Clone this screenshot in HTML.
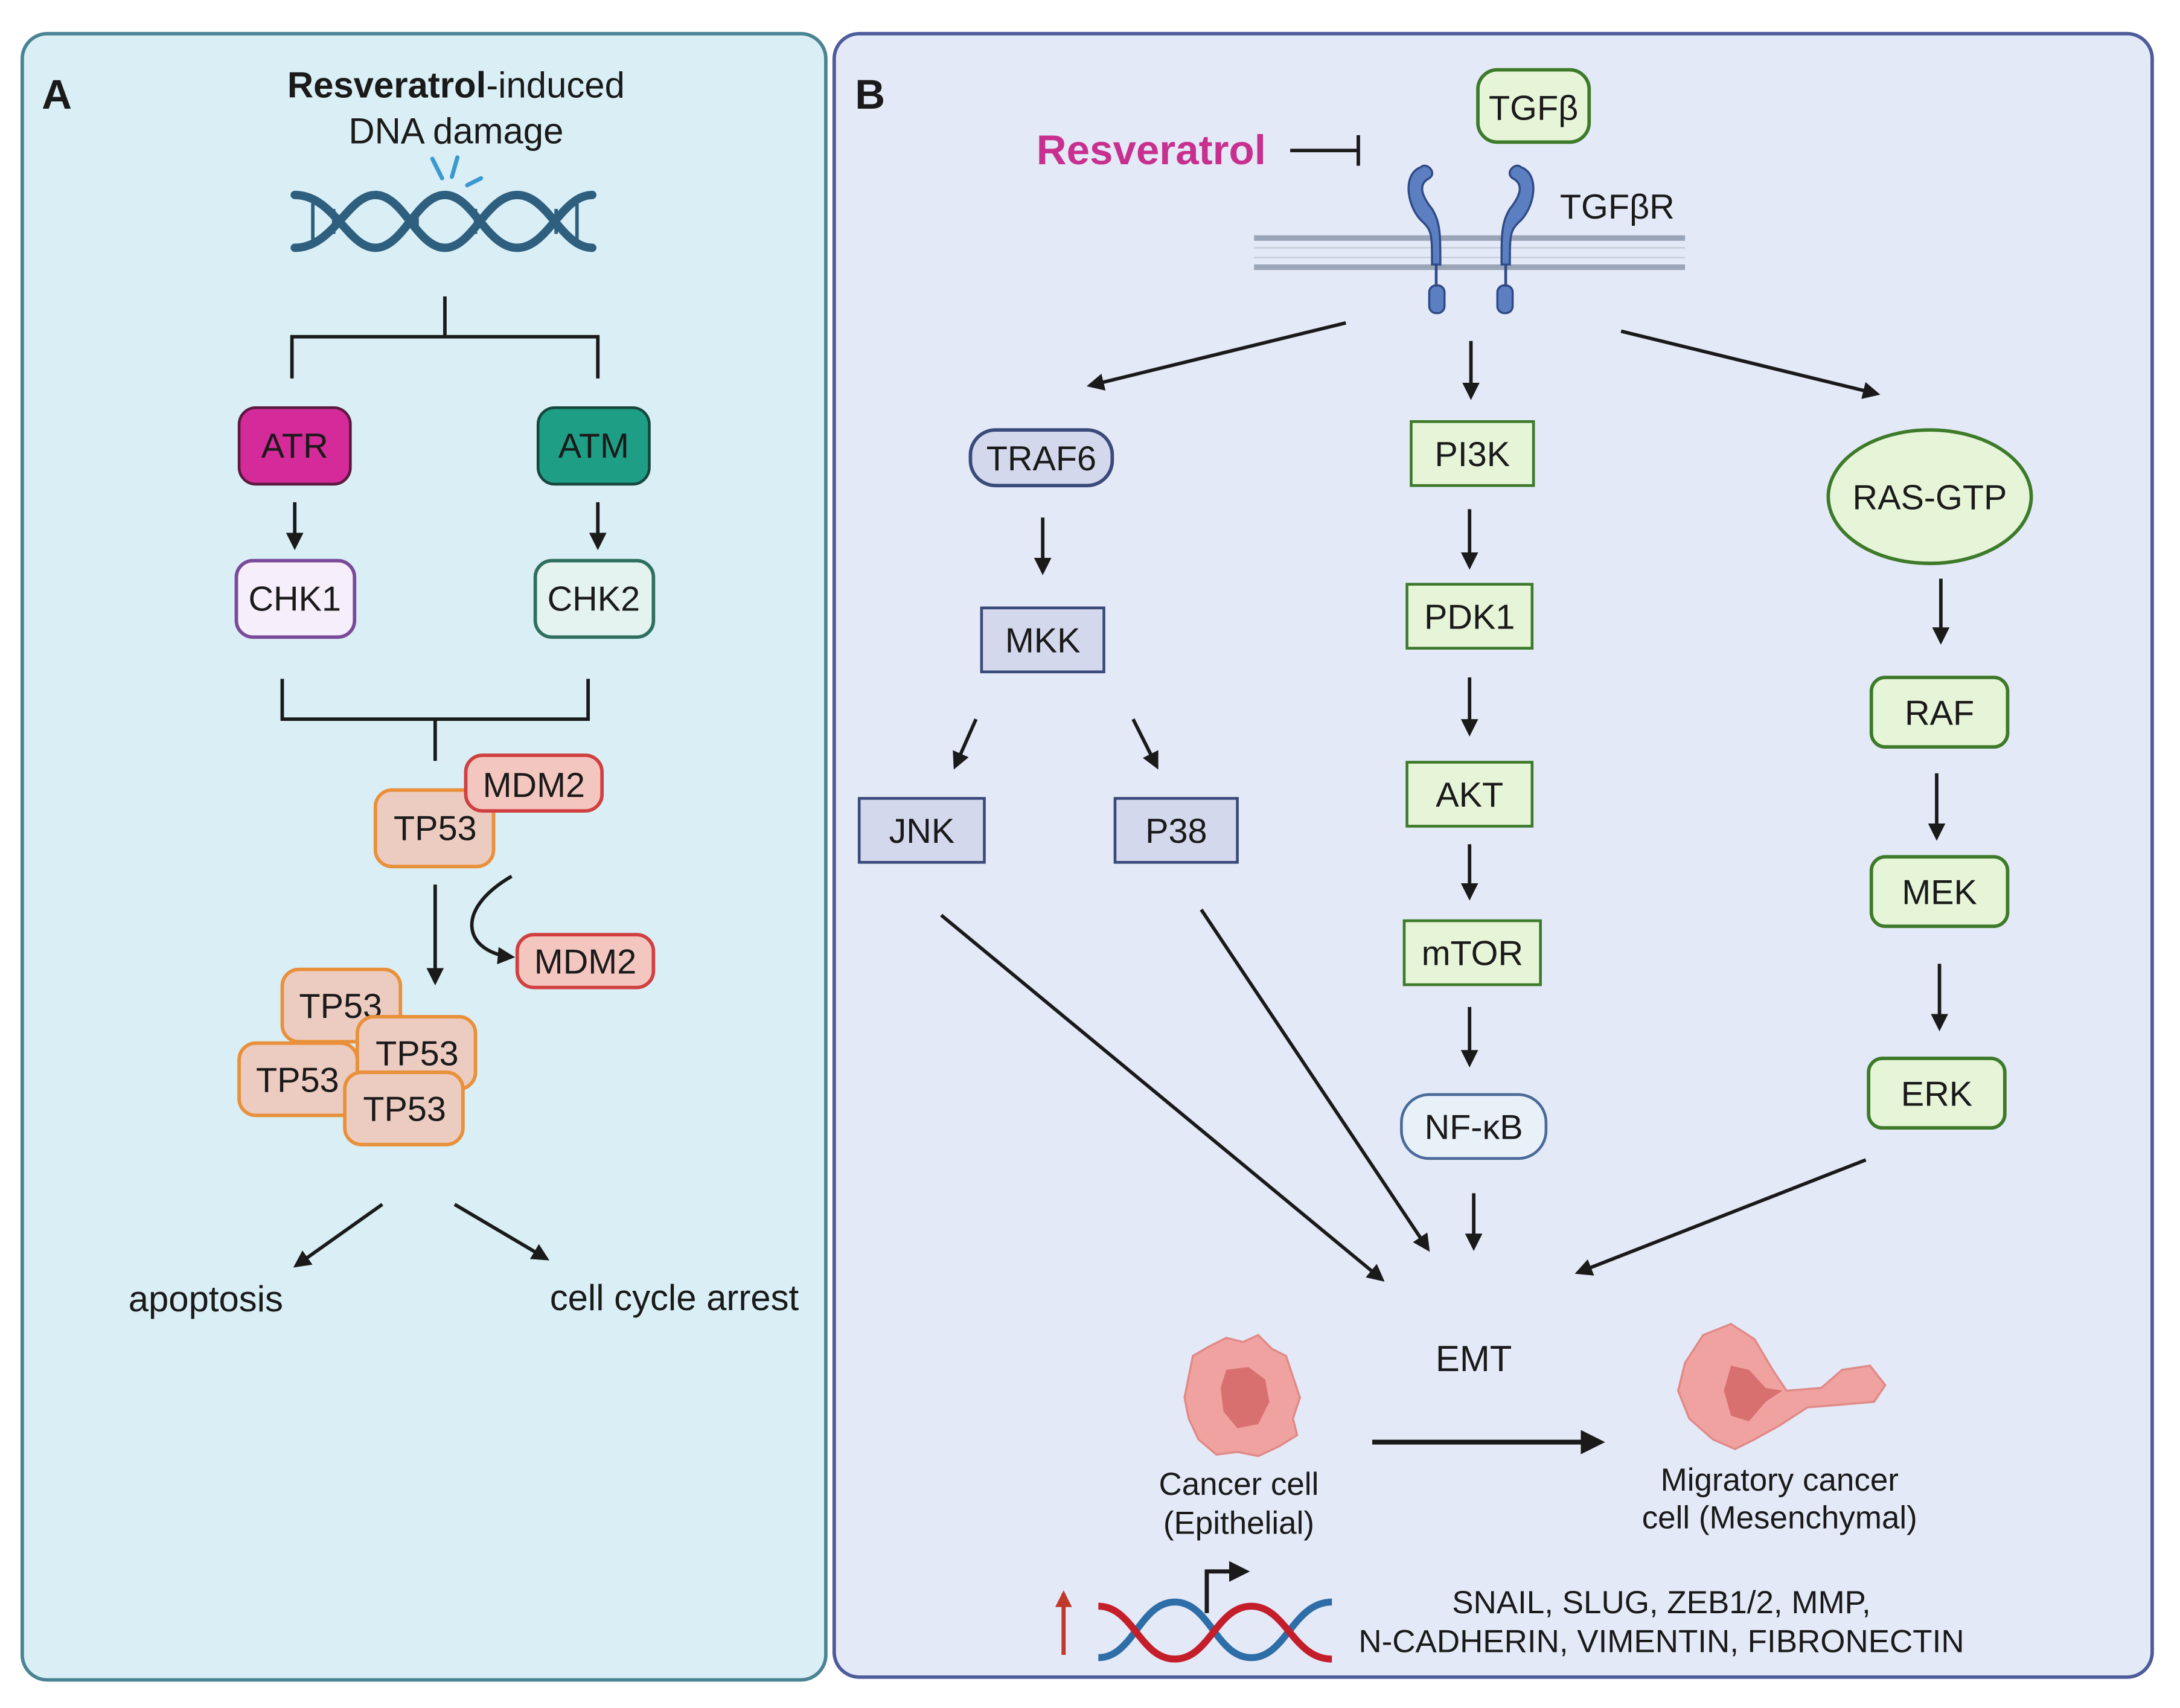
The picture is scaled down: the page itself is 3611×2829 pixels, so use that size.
<!DOCTYPE html>
<html><head><meta charset="utf-8"><style>
html,body{margin:0;padding:0;background:#fff;}
svg{display:block;}
text{font-family:"Liberation Sans",sans-serif;fill:#1a1a1a;}
</style></head><body>
<svg width="3611" height="2829" viewBox="0 0 1568 1228" xmlns="http://www.w3.org/2000/svg">
<defs>
<marker id="ah" viewBox="0 0 10 10" refX="8" refY="5" markerWidth="5" markerHeight="5" orient="auto-start-reverse">
<path d="M0,0 L10,5 L0,10 z" fill="#1a1a1a"/></marker>
<marker id="ahR" viewBox="0 0 10 10" refX="8" refY="5" markerWidth="4" markerHeight="4" orient="auto"><path d="M0,0 L10,5 L0,10 z" fill="#c0392b"/></marker>
</defs>
<rect x="0" y="0" width="1568" height="1228" fill="#fff"/>
<rect x="16" y="24" width="578" height="1184" rx="18" fill="#d9eef5" stroke="#4a8494" stroke-width="2.5"/>
<rect x="600" y="24" width="948" height="1182" rx="18" fill="#e4e9f7" stroke="#4e5c9c" stroke-width="2.5"/>

<!-- Panel A -->
<text x="30" y="78" font-size="30" font-weight="bold">A</text>
<text x="328" y="70" font-size="26" text-anchor="middle"><tspan font-weight="bold">Resveratrol</tspan>-induced</text>
<text x="328" y="103" font-size="26" text-anchor="middle">DNA damage</text>
<g stroke="#2f5f7f" stroke-width="6" fill="none" stroke-linecap="round">
<path d="M212,140 C240,140 250,178 270,178 C290,178 300,140 320,140 C340,140 350,178 372,178 C394,178 404,140 426,140"/>
<path d="M212,178 C240,178 250,140 270,140 C290,140 300,178 320,178 C340,178 350,140 372,140 C394,140 404,178 426,178"/>
</g>
<g stroke="#2f5f7f" stroke-width="2.5">
<line x1="225" y1="146" x2="225" y2="172"/><line x1="240" y1="150" x2="240" y2="168"/><line x1="300" y1="150" x2="300" y2="168"/><line x1="342" y1="150" x2="342" y2="168"/><line x1="400" y1="150" x2="400" y2="168"/><line x1="415" y1="146" x2="415" y2="172"/>
</g>
<g stroke="#3a9ad0" stroke-width="3" stroke-linecap="round">
<line x1="311" y1="114" x2="318" y2="128"/><line x1="329" y1="113" x2="325" y2="127"/><line x1="336" y1="133" x2="346" y2="128"/></g>

<g stroke="#1a1a1a" stroke-width="2.5" fill="none">
<path d="M320,213 V242 M210,272 V242 H430 V272"/>
<path d="M203,488 V517 H423 V488 M313,517 V547"/>
</g>
<rect x="172" y="293" width="80" height="55" rx="12" fill="#d42a9a" stroke="#5a1a40" stroke-width="2"/>
<text x="212" y="329" font-size="25" text-anchor="middle">ATR</text>
<rect x="387" y="293" width="80" height="55" rx="12" fill="#1f9e86" stroke="#16463e" stroke-width="2"/>
<text x="427" y="329" font-size="25" text-anchor="middle">ATM</text>
<g stroke="#1a1a1a" stroke-width="2.5" marker-end="url(#ah)">
<line x1="212" y1="361" x2="212" y2="393"/><line x1="430" y1="361" x2="430" y2="393"/>
</g>
<rect x="170" y="403" width="85" height="55" rx="12" fill="#f6eefa" stroke="#7a4a9a" stroke-width="2.5"/>
<text x="212" y="439" font-size="25" text-anchor="middle">CHK1</text>
<rect x="385" y="403" width="85" height="55" rx="12" fill="#e4f3ef" stroke="#2f6f5f" stroke-width="2.5"/>
<text x="427" y="439" font-size="25" text-anchor="middle">CHK2</text>

<rect x="270" y="568" width="85" height="55" rx="12" fill="#eccbc0" stroke="#e8903a" stroke-width="2.5"/>
<text x="313" y="604" font-size="25" text-anchor="middle">TP53</text>
<rect x="335" y="543" width="98" height="40" rx="12" fill="#f4c6c0" stroke="#d04040" stroke-width="2.5"/>
<text x="384" y="573" font-size="25" text-anchor="middle">MDM2</text>
<line x1="313" y1="636" x2="313" y2="706" stroke="#1a1a1a" stroke-width="2.5" marker-end="url(#ah)"/>
<path d="M368,630 C325,655 335,685 368,688" stroke="#1a1a1a" stroke-width="2.5" fill="none" marker-end="url(#ah)"/>
<rect x="372" y="672" width="98" height="38" rx="12" fill="#f4c6c0" stroke="#d04040" stroke-width="2.5"/>
<text x="421" y="700" font-size="25" text-anchor="middle">MDM2</text>
<g stroke="#e8903a" stroke-width="2.5" fill="#eccbc0">
<rect x="203" y="697" width="85" height="52" rx="12"/></g>
<text x="245" y="732" font-size="25" text-anchor="middle">TP53</text>
<rect x="257" y="731" width="85" height="52" rx="12" fill="#eccbc0" stroke="#e8903a" stroke-width="2.5"/>
<text x="300" y="766" font-size="25" text-anchor="middle">TP53</text>
<rect x="172" y="750" width="85" height="52" rx="12" fill="#eccbc0" stroke="#e8903a" stroke-width="2.5"/>
<text x="214" y="785" font-size="25" text-anchor="middle">TP53</text>
<rect x="248" y="771" width="85" height="52" rx="12" fill="#eccbc0" stroke="#e8903a" stroke-width="2.5"/>
<text x="291" y="806" font-size="25" text-anchor="middle">TP53</text>
<g stroke="#1a1a1a" stroke-width="2.5" marker-end="url(#ah)">
<line x1="275" y1="866" x2="213" y2="910"/><line x1="327" y1="866" x2="393" y2="905"/></g>
<text x="148" y="943" font-size="26" text-anchor="middle">apoptosis</text>
<text x="485" y="942" font-size="26" text-anchor="middle">cell cycle arrest</text>

<!-- Panel B -->
<text x="615" y="78" font-size="30" font-weight="bold">B</text>
<text x="828" y="118" font-size="30" font-weight="bold" text-anchor="middle" style="fill:#c8308f">Resveratrol</text>
<path d="M928,108 H977 M977,97 V119" stroke="#1a1a1a" stroke-width="2.5" fill="none"/>
<rect x="1063" y="50" width="80" height="52" rx="14" fill="#e6f5d8" stroke="#3d7a2a" stroke-width="2.5"/>
<text x="1103" y="86" font-size="25" text-anchor="middle">TGFβ</text>
<g stroke="#9aa6b8" stroke-width="4"><line x1="902" y1="171" x2="1212" y2="171"/><line x1="902" y1="192" x2="1212" y2="192"/></g>
<g stroke="#c4ccd8" stroke-width="1"><line x1="902" y1="178" x2="1212" y2="178"/><line x1="902" y1="185" x2="1212" y2="185"/></g>
<g fill="#5b7fc0" stroke="#2f4a86" stroke-width="1.5">
<path d="M1022,120 C1008,125 1012,150 1024,160 C1030,166 1030,170 1030,190 L1036,190 C1036,168 1036,160 1030,150 C1022,140 1020,132 1028,128 C1034,124 1026,116 1022,120 Z"/>
<path d="M1094,120 C1108,125 1104,150 1092,160 C1086,166 1086,170 1086,190 L1080,190 C1080,168 1080,160 1086,150 C1094,140 1096,132 1088,128 C1082,124 1090,116 1094,120 Z"/>
<rect x="1028" y="205" width="11" height="20" rx="5"/><rect x="1077" y="205" width="11" height="20" rx="5"/>
</g>
<g stroke="#2f4a86" stroke-width="2"><line x1="1033" y1="190" x2="1033" y2="206"/><line x1="1083" y1="190" x2="1083" y2="206"/></g>
<text x="1122" y="157" font-size="25">TGFβR</text>

<g stroke="#1a1a1a" stroke-width="2.5" marker-end="url(#ah)">
<line x1="968" y1="232" x2="784" y2="277"/><line x1="1058" y1="245" x2="1058" y2="285"/><line x1="1166" y1="238" x2="1350" y2="283"/>
<line x1="750" y1="372" x2="750" y2="411"/>
<line x1="702" y1="517" x2="687" y2="551"/><line x1="815" y1="517" x2="832" y2="551"/>
<line x1="1057" y1="366" x2="1057" y2="407"/><line x1="1057" y1="487" x2="1057" y2="527"/><line x1="1057" y1="607" x2="1057" y2="645"/><line x1="1057" y1="724" x2="1057" y2="765"/><line x1="1060" y1="858" x2="1060" y2="897"/>
<line x1="1396" y1="416" x2="1396" y2="461"/><line x1="1393" y1="556" x2="1393" y2="602"/><line x1="1395" y1="693" x2="1395" y2="739"/>
<line x1="677" y1="658" x2="994" y2="920"/><line x1="864" y1="654" x2="1027" y2="898"/><line x1="1342" y1="834" x2="1135" y2="915"/>
</g>

<rect x="698" y="309" width="102" height="40" rx="18" fill="#d4d8ec" stroke="#3a4a7a" stroke-width="2.5"/>
<text x="749" y="338" font-size="25" text-anchor="middle">TRAF6</text>
<rect x="706" y="437" width="88" height="46" fill="#d4d8ec" stroke="#3a4a7a" stroke-width="2"/>
<text x="750" y="469" font-size="25" text-anchor="middle">MKK</text>
<rect x="618" y="574" width="90" height="46" fill="#d4d8ec" stroke="#3a4a7a" stroke-width="2"/>
<text x="663" y="606" font-size="25" text-anchor="middle">JNK</text>
<rect x="802" y="574" width="88" height="46" fill="#d4d8ec" stroke="#3a4a7a" stroke-width="2"/>
<text x="846" y="606" font-size="25" text-anchor="middle">P38</text>

<g fill="#e6f5d8" stroke="#3d7a2a" stroke-width="2">
<rect x="1015" y="303" width="88" height="46"/><rect x="1012" y="420" width="90" height="46"/><rect x="1012" y="548" width="90" height="46"/><rect x="1010" y="662" width="98" height="46"/>
</g>
<text x="1059" y="335" font-size="25" text-anchor="middle">PI3K</text>
<text x="1057" y="452" font-size="25" text-anchor="middle">PDK1</text>
<text x="1057" y="580" font-size="25" text-anchor="middle">AKT</text>
<text x="1059" y="694" font-size="25" text-anchor="middle">mTOR</text>
<rect x="1008" y="787" width="104" height="46" rx="20" fill="#e8f0f8" stroke="#4a6a9a" stroke-width="2"/>
<text x="1060" y="819" font-size="25" text-anchor="middle">NF-κB</text>

<ellipse cx="1388" cy="357" rx="73" ry="48" fill="#e6f5d8" stroke="#3d7a2a" stroke-width="2.5"/>
<text x="1388" y="366" font-size="25" text-anchor="middle">RAS-GTP</text>
<g fill="#e6f5d8" stroke="#3d7a2a" stroke-width="2.5">
<rect x="1346" y="487" width="98" height="50" rx="10"/><rect x="1346" y="616" width="98" height="50" rx="10"/><rect x="1344" y="761" width="98" height="50" rx="10"/></g>
<text x="1395" y="521" font-size="25" text-anchor="middle">RAF</text>
<text x="1395" y="650" font-size="25" text-anchor="middle">MEK</text>
<text x="1393" y="795" font-size="25" text-anchor="middle">ERK</text>

<text x="1060" y="986" font-size="26" text-anchor="middle">EMT</text>
<!-- cell 1 -->
<path d="M870,968 L882,962 L894,965 L905,960 L915,970 L925,975 L930,990 L935,1005 L930,1020 L933,1032 L920,1040 L905,1047 L890,1044 L875,1046 L862,1035 L855,1020 L852,1005 L855,990 L858,975 Z" fill="#f0a2a0" stroke="#e08a88" stroke-width="1.5"/>
<path d="M882,985 L898,983 L910,992 L913,1008 L905,1024 L890,1027 L880,1015 L878,998 Z" fill="#d8706f"/>
<line x1="987" y1="1037" x2="1151" y2="1037" stroke="#1a1a1a" stroke-width="3.5" marker-end="url(#ah)"/>
<!-- cell 2 -->
<path d="M1225,960 L1245,952 L1262,963 L1275,985 L1285,1000 L1310,998 L1325,985 L1345,982 L1356,996 L1348,1008 L1325,1010 L1300,1012 L1280,1025 L1262,1035 L1248,1042 L1232,1035 L1215,1020 L1207,1000 L1212,980 Z" fill="#f0a2a0" stroke="#e08a88" stroke-width="1.5"/>
<path d="M1245,982 L1258,985 L1270,998 L1282,1000 L1270,1008 L1258,1022 L1245,1018 L1240,1000 Z" fill="#d8706f"/>
<text x="891" y="1075" font-size="23" text-anchor="middle">Cancer cell</text>
<text x="891" y="1103" font-size="23" text-anchor="middle">(Epithelial)</text>
<text x="1280" y="1072" font-size="23" text-anchor="middle">Migratory cancer</text>
<text x="1280" y="1099" font-size="23" text-anchor="middle">cell (Mesenchymal)</text>

<line x1="765" y1="1190" x2="765" y2="1146" stroke="#c0392b" stroke-width="3" marker-end="url(#ahR)"/>
<g fill="none" stroke-width="5">
<path d="M790,1192 C815,1192 820,1152 845,1152 C870,1152 875,1192 900,1192 C925,1192 930,1152 958,1152" stroke="#2e6ea8"/>
<path d="M790,1155 C815,1155 820,1193 845,1193 C870,1193 875,1155 900,1155 C925,1155 930,1193 958,1193" stroke="#c41e2a"/>
</g>
<path d="M868,1160 V1130 H896" stroke="#1a1a1a" stroke-width="3" fill="none" marker-end="url(#ah)"/>
<text x="1195" y="1160" font-size="23" text-anchor="middle">SNAIL, SLUG, ZEB1/2, MMP,</text>
<text x="1195" y="1188" font-size="23" text-anchor="middle">N-CADHERIN, VIMENTIN, FIBRONECTIN</text>
</svg>
</body></html>
